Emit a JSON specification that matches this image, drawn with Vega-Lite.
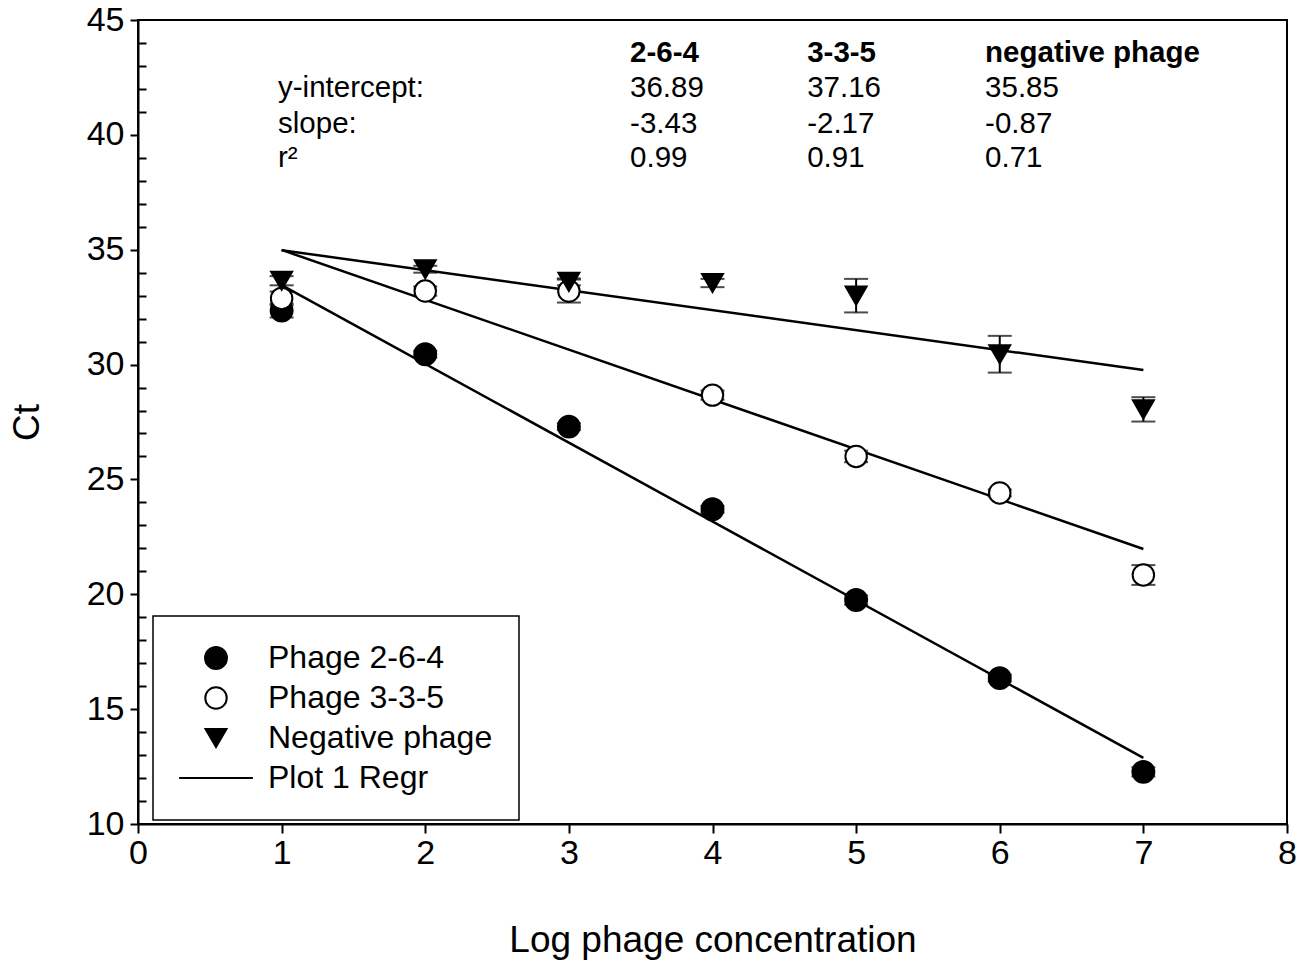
{
  "$schema": "https://vega.github.io/schema/vega-lite/v6.json",
  "width": 1149,
  "height": 804,
  "autosize": "none",
  "padding": {"left": 138, "top": 20, "right": 26, "bottom": 142},
  "background": "white",
  "config": {
    "view": {"stroke": "black", "strokeWidth": 2},
    "font": "Liberation Sans",
    "axis": {
      "domainColor": "black",
      "domainWidth": 2,
      "tickColor": "black",
      "tickWidth": 2,
      "grid": false,
      "labelFont": "Liberation Sans",
      "labelFontSize": 34,
      "labelColor": "black",
      "labelFlush": false,
      "titleFont": "Liberation Sans",
      "titleFontSize": 37,
      "titleFontWeight": "normal",
      "titleColor": "black"
    },
    "legend": {
      "orient": "none",
      "legendX": 15,
      "legendY": 596,
      "fillColor": "white",
      "strokeColor": "black",
      "strokeWidth": 1.5,
      "padding": 26,
      "labelFont": "Liberation Sans",
      "labelFontSize": 32,
      "labelColor": "black",
      "labelLimit": 400,
      "labelOffset": 36,
      "symbolOffset": 21,
      "symbolStrokeWidth": 2,
      "rowPadding": 8,
      "title": null
    }
  },
  "datasets": {
    "regression": [
      {"series": "Phage 2-6-4", "x": 1, "ct": 33.46},
      {"series": "Phage 2-6-4", "x": 7, "ct": 12.88},
      {"series": "Phage 3-3-5", "x": 1, "ct": 34.99},
      {"series": "Phage 3-3-5", "x": 7, "ct": 21.97},
      {"series": "Negative phage", "x": 1, "ct": 34.98},
      {"series": "Negative phage", "x": 7, "ct": 29.76}
    ],
    "measured": [
      {"series": "Phage 2-6-4", "x": 1, "ct": 32.35, "err": 0.3},
      {"series": "Phage 2-6-4", "x": 2, "ct": 30.45, "err": 0.15},
      {"series": "Phage 2-6-4", "x": 3, "ct": 27.3, "err": 0.15},
      {"series": "Phage 2-6-4", "x": 4, "ct": 23.7, "err": 0.15},
      {"series": "Phage 2-6-4", "x": 5, "ct": 19.75, "err": 0.2},
      {"series": "Phage 2-6-4", "x": 6, "ct": 16.35, "err": 0.15},
      {"series": "Phage 2-6-4", "x": 7, "ct": 12.27, "err": 0.2},
      {"series": "Phage 3-3-5", "x": 1, "ct": 32.88, "err": 0.3},
      {"series": "Phage 3-3-5", "x": 2, "ct": 33.2, "err": 0.2},
      {"series": "Phage 3-3-5", "x": 3, "ct": 33.2, "err": 0.5},
      {"series": "Phage 3-3-5", "x": 4, "ct": 28.67, "err": 0.2},
      {"series": "Phage 3-3-5", "x": 5, "ct": 26.0, "err": 0.25},
      {"series": "Phage 3-3-5", "x": 6, "ct": 24.41, "err": 0.15},
      {"series": "Phage 3-3-5", "x": 7, "ct": 20.84, "err": 0.43},
      {"series": "Negative phage", "x": 1, "ct": 33.65, "err": 0.2},
      {"series": "Negative phage", "x": 2, "ct": 34.15, "err": 0.15},
      {"series": "Negative phage", "x": 3, "ct": 33.6, "err": 0.15},
      {"series": "Negative phage", "x": 4, "ct": 33.55, "err": 0.18},
      {"series": "Negative phage", "x": 5, "ct": 33.0, "err": 0.73},
      {"series": "Negative phage", "x": 6, "ct": 30.45, "err": 0.8},
      {"series": "Negative phage", "x": 7, "ct": 28.05, "err": 0.53}
    ],
    "headers": [
      {"x": 3.426, "row": 43.56, "label": "2-6-4"},
      {"x": 4.659, "row": 43.56, "label": "3-3-5"},
      {"x": 5.898, "row": 43.56, "label": "negative phage"}
    ],
    "stats": [
      {"x": 0.975, "row": 42.04, "label": "y-intercept:"},
      {"x": 0.975, "row": 40.47, "label": "slope:"},
      {"x": 0.975, "row": 38.99, "label": "r²"},
      {"x": 3.426, "row": 42.04, "label": "36.89"},
      {"x": 3.426, "row": 40.47, "label": "-3.43"},
      {"x": 3.426, "row": 38.99, "label": "0.99"},
      {"x": 4.659, "row": 42.04, "label": "37.16"},
      {"x": 4.659, "row": 40.47, "label": "-2.17"},
      {"x": 4.659, "row": 38.99, "label": "0.91"},
      {"x": 5.898, "row": 42.04, "label": "35.85"},
      {"x": 5.898, "row": 40.47, "label": "-0.87"},
      {"x": 5.898, "row": 38.99, "label": "0.71"}
    ]
  },
  "layer": [
    {
      "data": {"name": "regression"},
      "mark": {"type": "line", "color": "black", "strokeWidth": 2.5},
      "encoding": {
        "x": {
          "field": "x",
          "type": "quantitative",
          "scale": {"domain": [0, 8], "nice": false, "zero": false},
          "axis": {
            "values": [0, 1, 2, 3, 4, 5, 6, 7, 8],
            "format": "d",
            "tickSize": 9,
            "labelPadding": 3,
            "title": "Log phage concentration",
            "titlePadding": 52
          }
        },
        "y": {
          "field": "ct",
          "type": "quantitative",
          "scale": {"domain": [10, 45], "nice": false, "zero": false},
          "axis": {
            "orient": "left",
            "values": [10, 15, 20, 25, 30, 35, 40, 45],
            "format": "d",
            "tickSize": 8,
            "labelPadding": 6,
            "title": "Ct",
            "titlePadding": 40
          }
        },
        "detail": {"field": "series"}
      }
    },
    {
      "data": {"name": "measured"},
      "mark": {"type": "errorbar", "ticks": true, "size": 24, "thickness": 2, "color": "black"},
      "encoding": {
        "x": {"field": "x", "type": "quantitative"},
        "y": {"field": "ct", "type": "quantitative", "axis": null},
        "yError": {"field": "err"}
      }
    },
    {
      "data": {"name": "measured"},
      "mark": {"type": "point", "filled": true, "strokeWidth": 2, "opacity": 1},
      "encoding": {
        "x": {"field": "x", "type": "quantitative"},
        "y": {"field": "ct", "type": "quantitative", "axis": null},
        "shape": {
          "field": "series",
          "scale": {
            "domain": ["Phage 2-6-4", "Phage 3-3-5", "Negative phage", "Plot 1 Regr"],
            "range": ["circle", "circle", "triangle-down", "M-3.6,0H3.6"]
          }
        },
        "fill": {
          "field": "series",
          "scale": {
            "domain": ["Phage 2-6-4", "Phage 3-3-5", "Negative phage", "Plot 1 Regr"],
            "range": ["black", "white", "black", "transparent"]
          }
        },
        "stroke": {
          "field": "series",
          "scale": {
            "domain": ["Phage 2-6-4", "Phage 3-3-5", "Negative phage", "Plot 1 Regr"],
            "range": ["black", "black", "black", "black"]
          }
        },
        "size": {
          "field": "series",
          "type": "nominal",
          "scale": {
            "domain": ["Phage 2-6-4", "Phage 3-3-5", "Negative phage", "Plot 1 Regr"],
            "range": [480, 420, 480, 480]
          }
        }
      }
    },
    {
      "data": {"name": "headers"},
      "mark": {"type": "text", "align": "left", "baseline": "middle", "font": "Liberation Sans", "fontSize": 29.5, "fontWeight": "bold", "color": "black"},
      "encoding": {
        "x": {"field": "x", "type": "quantitative"},
        "y": {"field": "row", "type": "quantitative", "axis": null},
        "text": {"field": "label"}
      }
    },
    {
      "data": {"name": "stats"},
      "mark": {"type": "text", "align": "left", "baseline": "middle", "font": "Liberation Sans", "fontSize": 29.5, "color": "black"},
      "encoding": {
        "x": {"field": "x", "type": "quantitative"},
        "y": {
          "field": "row",
          "type": "quantitative",
          "axis": {
            "orient": "left",
            "values": [11, 12, 13, 14, 16, 17, 18, 19, 21, 22, 23, 24, 26, 27, 28, 29, 31, 32, 33, 34, 36, 37, 38, 39, 41, 42, 43, 44],
            "offset": -8,
            "tickSize": 8,
            "labels": false,
            "domain": false,
            "title": null
          }
        },
        "text": {"field": "label"}
      }
    }
  ],
  "resolve": {"axis": {"y": "independent"}}
}
